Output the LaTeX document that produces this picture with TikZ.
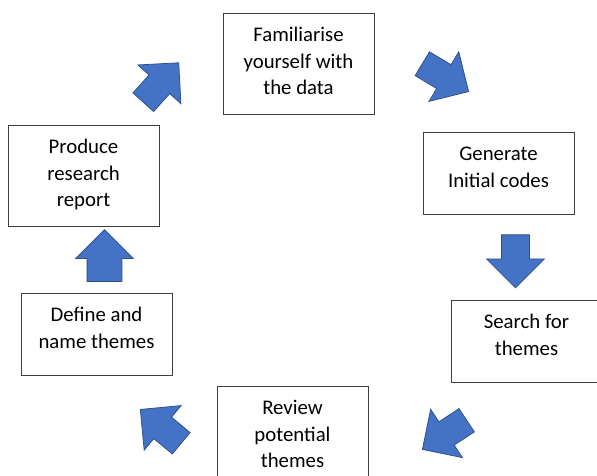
\documentclass[tikz,border=0pt]{standalone}
\usepackage{fontspec}
\setmainfont{Carlito}
\usetikzlibrary{shapes.arrows}

\definecolor{arrowblue}{HTML}{4472C4}
\definecolor{arrowedge}{HTML}{2F528F}
\definecolor{boxedge}{HTML}{3F3F3F}

\tikzset{
  stage/.style={draw=boxedge, line width=1pt, minimum width=151pt, inner sep=0pt, anchor=north, align=center, font=\fontsize{20.8}{26.5}\selectfont},
  % the box baseline is the last line of text
  tall/.style={text height=81.5pt, text depth=19.5pt},
  short/.style={text height=55pt, text depth=27.5pt},
  flow/.style={single arrow, draw=arrowedge, fill=arrowblue, line width=0.8pt, inner sep=0pt, text height=27pt, text depth=0pt, minimum height=53pt, single arrow head extend=15pt, anchor=tail},
}

\begin{document}
\begin{tikzpicture}[x=1pt, y=1pt]
        \useasboundingbox (0,0) rectangle (597,476);

        % boxes, placed by their top edge
        \node[stage, tall] (fam) at (298.5,463) {Familiarise\\yourself with\\the data};
        \node[stage, short] (gen) at (498.5,344) {Generate\\Initial codes};
        \node[stage, short] (search) at (526.5,176) {Search for\\themes};
        \node[stage, tall] (review) at (292.5,90) {Review\\potential\\themes};
        \node[stage, short] (define) at (96.5,183) {Define and\\name themes};
        \node[stage, tall] (produce) at (83.5,351) {Produce\\research\\report};

        % block arrows, placed by their tail
        \node[flow, rotate=48] (a1) at (143,373.5) {};
        \node[flow, rotate=-31, minimum height=54pt] (a2) at (422,412.5) {};
        \node[flow, rotate=-90] (a3) at (515.5,241.5) {};
        \node[flow, rotate=-146.6] (a4) at (467,56) {};
        \node[flow, rotate=140.4] (a5) at (181.5,32.5) {};
        \node[flow, rotate=90, minimum height=52pt, text height=34pt, single arrow head extend=11.5pt] (a6) at (104.5,194) {};
      \end{tikzpicture}
\end{document}
